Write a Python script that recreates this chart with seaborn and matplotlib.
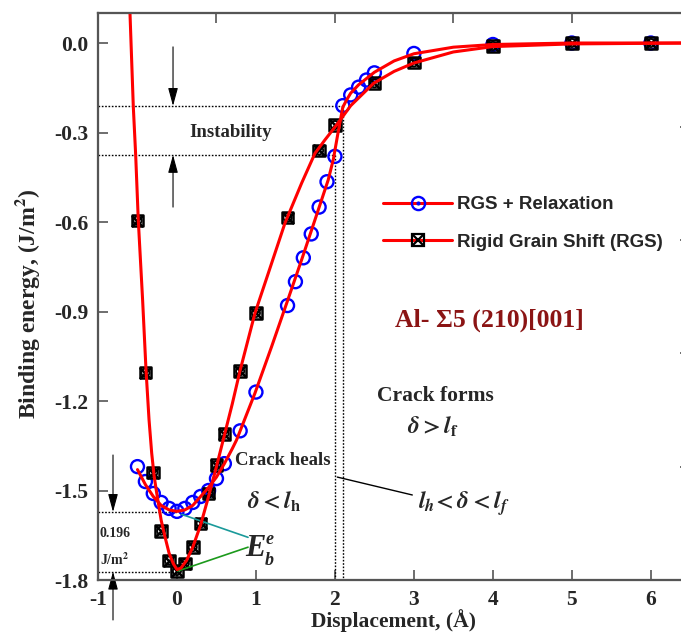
import matplotlib
matplotlib.use("Agg")
import matplotlib.pyplot as plt
from matplotlib.lines import Line2D
import seaborn as sns
import pandas as pd

# ---------------- data ----------------
relax_x = [-0.5, -0.4, -0.3, -0.2, -0.1, 0.0, 0.1, 0.2, 0.3, 0.4, 0.5, 0.6, 0.8, 1.0,
           1.4, 1.5, 1.6, 1.7, 1.8, 1.9, 2.0, 2.1, 2.2, 2.3, 2.4, 2.5, 3.0, 4.0, 5.0, 6.0]
relax_y = [-1.42, -1.47, -1.51, -1.54, -1.56, -1.57, -1.56, -1.54, -1.52, -1.50, -1.46, -1.41,
           -1.30, -1.17, -0.88, -0.80, -0.72, -0.64, -0.55, -0.465, -0.38, -0.21, -0.174,
           -0.148, -0.124, -0.10, -0.035, -0.005, 0.0, 0.0]

rgs_x = [-0.5, -0.4, -0.3, -0.2, -0.1, 0.0, 0.1, 0.2, 0.3, 0.4, 0.5, 0.6, 0.8, 1.0,
         1.4, 1.8, 2.0, 2.5, 3.0, 4.0, 5.0, 6.0]
rgs_y = [-0.595, -1.105, -1.44, -1.635, -1.735, -1.77, -1.745, -1.69, -1.61, -1.51, -1.415,
         -1.31, -1.10, -0.905, -0.585, -0.36, -0.275, -0.135, -0.065, -0.01, 0.0, 0.0]

# fitted curves
fit_rgs_x = [-0.595, -0.553, -0.523, -0.49, -0.435, -0.392, -0.354, -0.32, -0.29, -0.257,
             -0.2, -0.152, -0.1, -0.047, 0.0, 0.05, 0.12, 0.2, 0.3, 0.4, 0.5, 0.6, 0.7,
             0.797, 0.987, 1.156, 1.367, 1.578, 1.747, 1.873, 2.02, 2.2, 2.49, 2.75, 3.0,
             3.5, 4.0, 5.0, 6.5]
fit_rgs_y = [0.10, -0.213, -0.375, -0.593, -0.862, -1.096, -1.262, -1.375, -1.45, -1.508,
             -1.60, -1.655, -1.71, -1.745, -1.765, -1.76, -1.735, -1.69, -1.615, -1.52,
             -1.42, -1.315, -1.21, -1.10, -0.906, -0.772, -0.604, -0.47, -0.37, -0.325,
             -0.275, -0.21, -0.135, -0.095, -0.067, -0.03, -0.012, -0.003, 0.0]

fit_rel_x = [-0.5, -0.4, -0.3, -0.2, -0.1, 0.0, 0.1, 0.2, 0.3, 0.4, 0.5, 0.6, 0.7, 0.754,
             0.987, 1.198, 1.388, 1.578, 1.747, 1.915, 1.98, 2.04, 2.1, 2.15, 2.2, 2.3, 2.5,
             2.75, 3.0, 3.5, 4.0, 5.0, 6.5]
fit_rel_y = [-1.43, -1.48, -1.52, -1.55, -1.565, -1.57, -1.565, -1.55, -1.52, -1.49, -1.455,
             -1.41, -1.36, -1.331, -1.174, -1.018, -0.873, -0.727, -0.593, -0.459, -0.39,
             -0.30, -0.215, -0.19, -0.168, -0.14, -0.098, -0.06, -0.036, -0.014, -0.005,
             0.0, 0.0]

x_ticks = [-1, 0, 1, 2, 3, 4, 5, 6]
x_ticklabels = ["-1", "0", "1", "2", "3", "4", "5", "6"]
y_ticks = [0.0, -0.3, -0.6, -0.9, -1.2, -1.5, -1.8]
y_ticklabels = ["0.0", "-0.3", "-0.6", "-0.9", "-1.2", "-1.5", "-1.8"]
top_ticks = [0.5, 2.0, 3.5, 5.0]
right_ticks = [-0.28, -0.66, -1.04, -1.42]
series_names = ["RGS + Relaxation", "Rigid Grain Shift (RGS)"]

# ---------------- style ----------------
sns.set_style("ticks")
plt.rcParams["font.family"] = ["Liberation Serif", "DejaVu Serif"]
plt.rcParams["font.weight"] = "bold"
plt.rcParams["mathtext.fontset"] = "stix"

SERIF = "Liberation Serif"
SANS = "Liberation Sans"
SPINE = "#555555"

fig = plt.figure(figsize=(6.81, 6.37), dpi=100)
ax = fig.add_axes([98 / 681, 1 - 580 / 637, (689.5 - 98) / 681, (580 - 13) / 637])

rel_df = pd.DataFrame({"x": relax_x, "y": relax_y})
rgs_df = pd.DataFrame({"x": rgs_x, "y": rgs_y})
fit_rgs = pd.DataFrame({"x": fit_rgs_x, "y": fit_rgs_y})
fit_rel = pd.DataFrame({"x": fit_rel_x, "y": fit_rel_y})

# markers
sns.scatterplot(data=rel_df, x="x", y="y", marker="o", s=88, facecolor="none",
                edgecolor="blue", linewidth=1.7, ax=ax, zorder=2)
sns.scatterplot(data=rgs_df, x="x", y="y", marker="s", s=70, facecolor="none",
                edgecolor="black", linewidth=1.8, ax=ax, zorder=2)
sns.scatterplot(data=rgs_df, x="x", y="y", marker="x", s=65, color="black",
                linewidth=1.8, ax=ax, zorder=2)
sns.scatterplot(data=rgs_df, x="x", y="y", marker="o", s=34, facecolor="none",
                edgecolor="black", linewidth=1.3, ax=ax, zorder=2)

# fitted lines
sns.lineplot(data=fit_rgs, x="x", y="y", sort=False, estimator=None, color="red",
             lw=2.2, ax=ax, zorder=3)
sns.lineplot(data=fit_rel, x="x", y="y", sort=False, estimator=None, color="red",
             lw=2.2, ax=ax, zorder=3)

ax.set_xlim(-1, 6.49)
ax.set_ylim(-1.8, 0.1006)
ax.set_xticks(x_ticks)
ax.set_xticklabels(x_ticklabels)
ax.set_yticks(y_ticks)
ax.set_yticklabels(y_ticklabels)
for lbl in ax.get_xticklabels() + ax.get_yticklabels():
    lbl.set_fontfamily(SERIF)
    lbl.set_fontweight("bold")
    lbl.set_fontsize(15.5)
ax.tick_params(direction="in", length=7, width=1.2, color=SPINE, pad=7)
for sp in ax.spines.values():
    sp.set_color(SPINE)
    sp.set_linewidth(1.5)

ax.set_xlabel("Displacement, (Å)", fontsize=15.5, fontweight="bold", fontfamily=SERIF)
ax.set_ylabel(r"Binding energy, (J/m$^{\mathbf{2}}$)", fontsize=17, fontweight="bold",
              fontfamily=SERIF)
ax.xaxis.set_label_coords(0.5, -0.052)
ax.yaxis.set_label_coords(-0.095, 0.487)

# top / right ticks
axt = ax.twiny()
axt.set_xlim(ax.get_xlim())
axt.set_xticks(top_ticks)
axt.tick_params(axis="x", direction="in", length=7, width=1.2, color=SPINE, labeltop=False)
axr = ax.twinx()
axr.set_ylim(ax.get_ylim())
axr.set_yticks(right_ticks)
axr.tick_params(axis="y", direction="in", length=7, width=1.2, color=SPINE, labelright=False)
for a in (axt, axr):
    for sp in a.spines.values():
        sp.set_color(SPINE)
        sp.set_linewidth(1.5)

# dotted guide lines
dot = dict(color="black", lw=1.0, ls=(0, (1.2, 1.2)), zorder=1)
ax.plot([-1, 2.1], [-0.211, -0.211], **dot)
ax.plot([-1, 2.0], [-0.375, -0.375], **dot)
ax.plot([2.0, 2.0], [-0.375, -1.8], **dot)
ax.plot([2.1, 2.1], [-0.211, -1.8], **dot)
ax.plot([-1, 0.0], [-1.572, -1.572], **dot)
ax.plot([-1, 0.0], [-1.772, -1.772], **dot)

arrow = dict(arrowstyle="-|>,head_length=1.1,head_width=0.3", color="black", lw=0.8,
             shrinkA=0, shrinkB=0)
ax.annotate("", xy=(-0.05, -0.211), xytext=(-0.05, -0.013), arrowprops=arrow)
ax.annotate("", xy=(-0.05, -0.375), xytext=(-0.05, -0.55), arrowprops=arrow)
ax.annotate("", xy=(-0.81, -1.572), xytext=(-0.81, -1.381), arrowprops=arrow)
ax.annotate("", xy=(-0.81, -1.772), xytext=(-0.81, -1.934), arrowprops=arrow,
            annotation_clip=False)

ax.text(0.68, -0.30, "Instability", fontsize=13.5, fontweight="bold", ha="center",
        va="center", fontfamily=SERIF)
ax.text(-0.975, -1.643, "0.196", fontsize=10, fontweight="bold", ha="left", va="center",
        fontfamily=SERIF)
ax.text(-0.975, -1.733, r"J/m$^{\mathbf{2}}$", fontsize=10, fontweight="bold", ha="left",
        va="center", fontfamily=SERIF)

# E_b^e label with connector lines
ax.plot([0.06, 0.90], [-1.58, -1.657], color="#1a9a9a", lw=1.2, zorder=2)
ax.plot([0.01, 0.90], [-1.77, -1.69], color="#1c9a1c", lw=1.2, zorder=2)
ax.text(0.987, -1.693, "E", fontsize=22, fontweight="bold", fontstyle="italic",
        ha="center", va="center", fontfamily=SERIF)
ax.text(1.177, -1.663, "e", fontsize=13, fontweight="bold", fontstyle="italic",
        ha="center", va="center", fontfamily=SERIF)
ax.text(1.165, -1.733, "b", fontsize=13, fontweight="bold", fontstyle="italic",
        ha="center", va="center", fontfamily=SERIF)

ax.text(0.734, -1.398, "Crack heals", fontsize=13.5, fontweight="bold", ha="left",
        va="center", fontfamily=SERIF)
ax.text(0.886, -1.539, r"$\delta < l_{\mathbf{h}}$", fontsize=17, ha="left", va="center")
ax.plot([2.03, 2.98], [-1.455, -1.515], color="black", lw=1.0)
ax.text(3.05, -1.545, r"$l_h\!< \delta < l_f$", fontsize=17, ha="left", va="center")
ax.text(3.27, -1.183, "Crack forms", fontsize=15.5, fontweight="bold", ha="center",
        va="center", fontfamily=SERIF)
ax.text(2.91, -1.287, r"$\delta > l_{\mathrm{f}}$", fontsize=17, ha="left", va="center")
ax.text(3.96, -0.929, "Al- Σ5 (210)[001]", fontsize=18.5, fontweight="bold", ha="center",
        va="center", color="#8b1414", fontfamily=SERIF)

# legend
h1 = (Line2D([], [], color="red", lw=2.2, marker="o", ms=9.5, mfc="none", mec="blue", mew=1.7),
      Line2D([], [], ls="", marker=".", ms=4, color="blue"))
h2 = (Line2D([], [], color="red", lw=2.2, marker="s", ms=8, mfc="none", mec="black", mew=1.6),
      Line2D([], [], ls="", marker="x", ms=7, mec="black", mew=1.6))
ax.legend([h1, h2], series_names, loc="upper left", bbox_to_anchor=(0.4818, 0.677),
          frameon=False, borderpad=0, borderaxespad=0, handlelength=3.7,
          handletextpad=0.25, labelspacing=1.09,
          prop={"family": SANS, "weight": "bold", "size": 13.5})

fig.savefig("out.png", dpi=100)
